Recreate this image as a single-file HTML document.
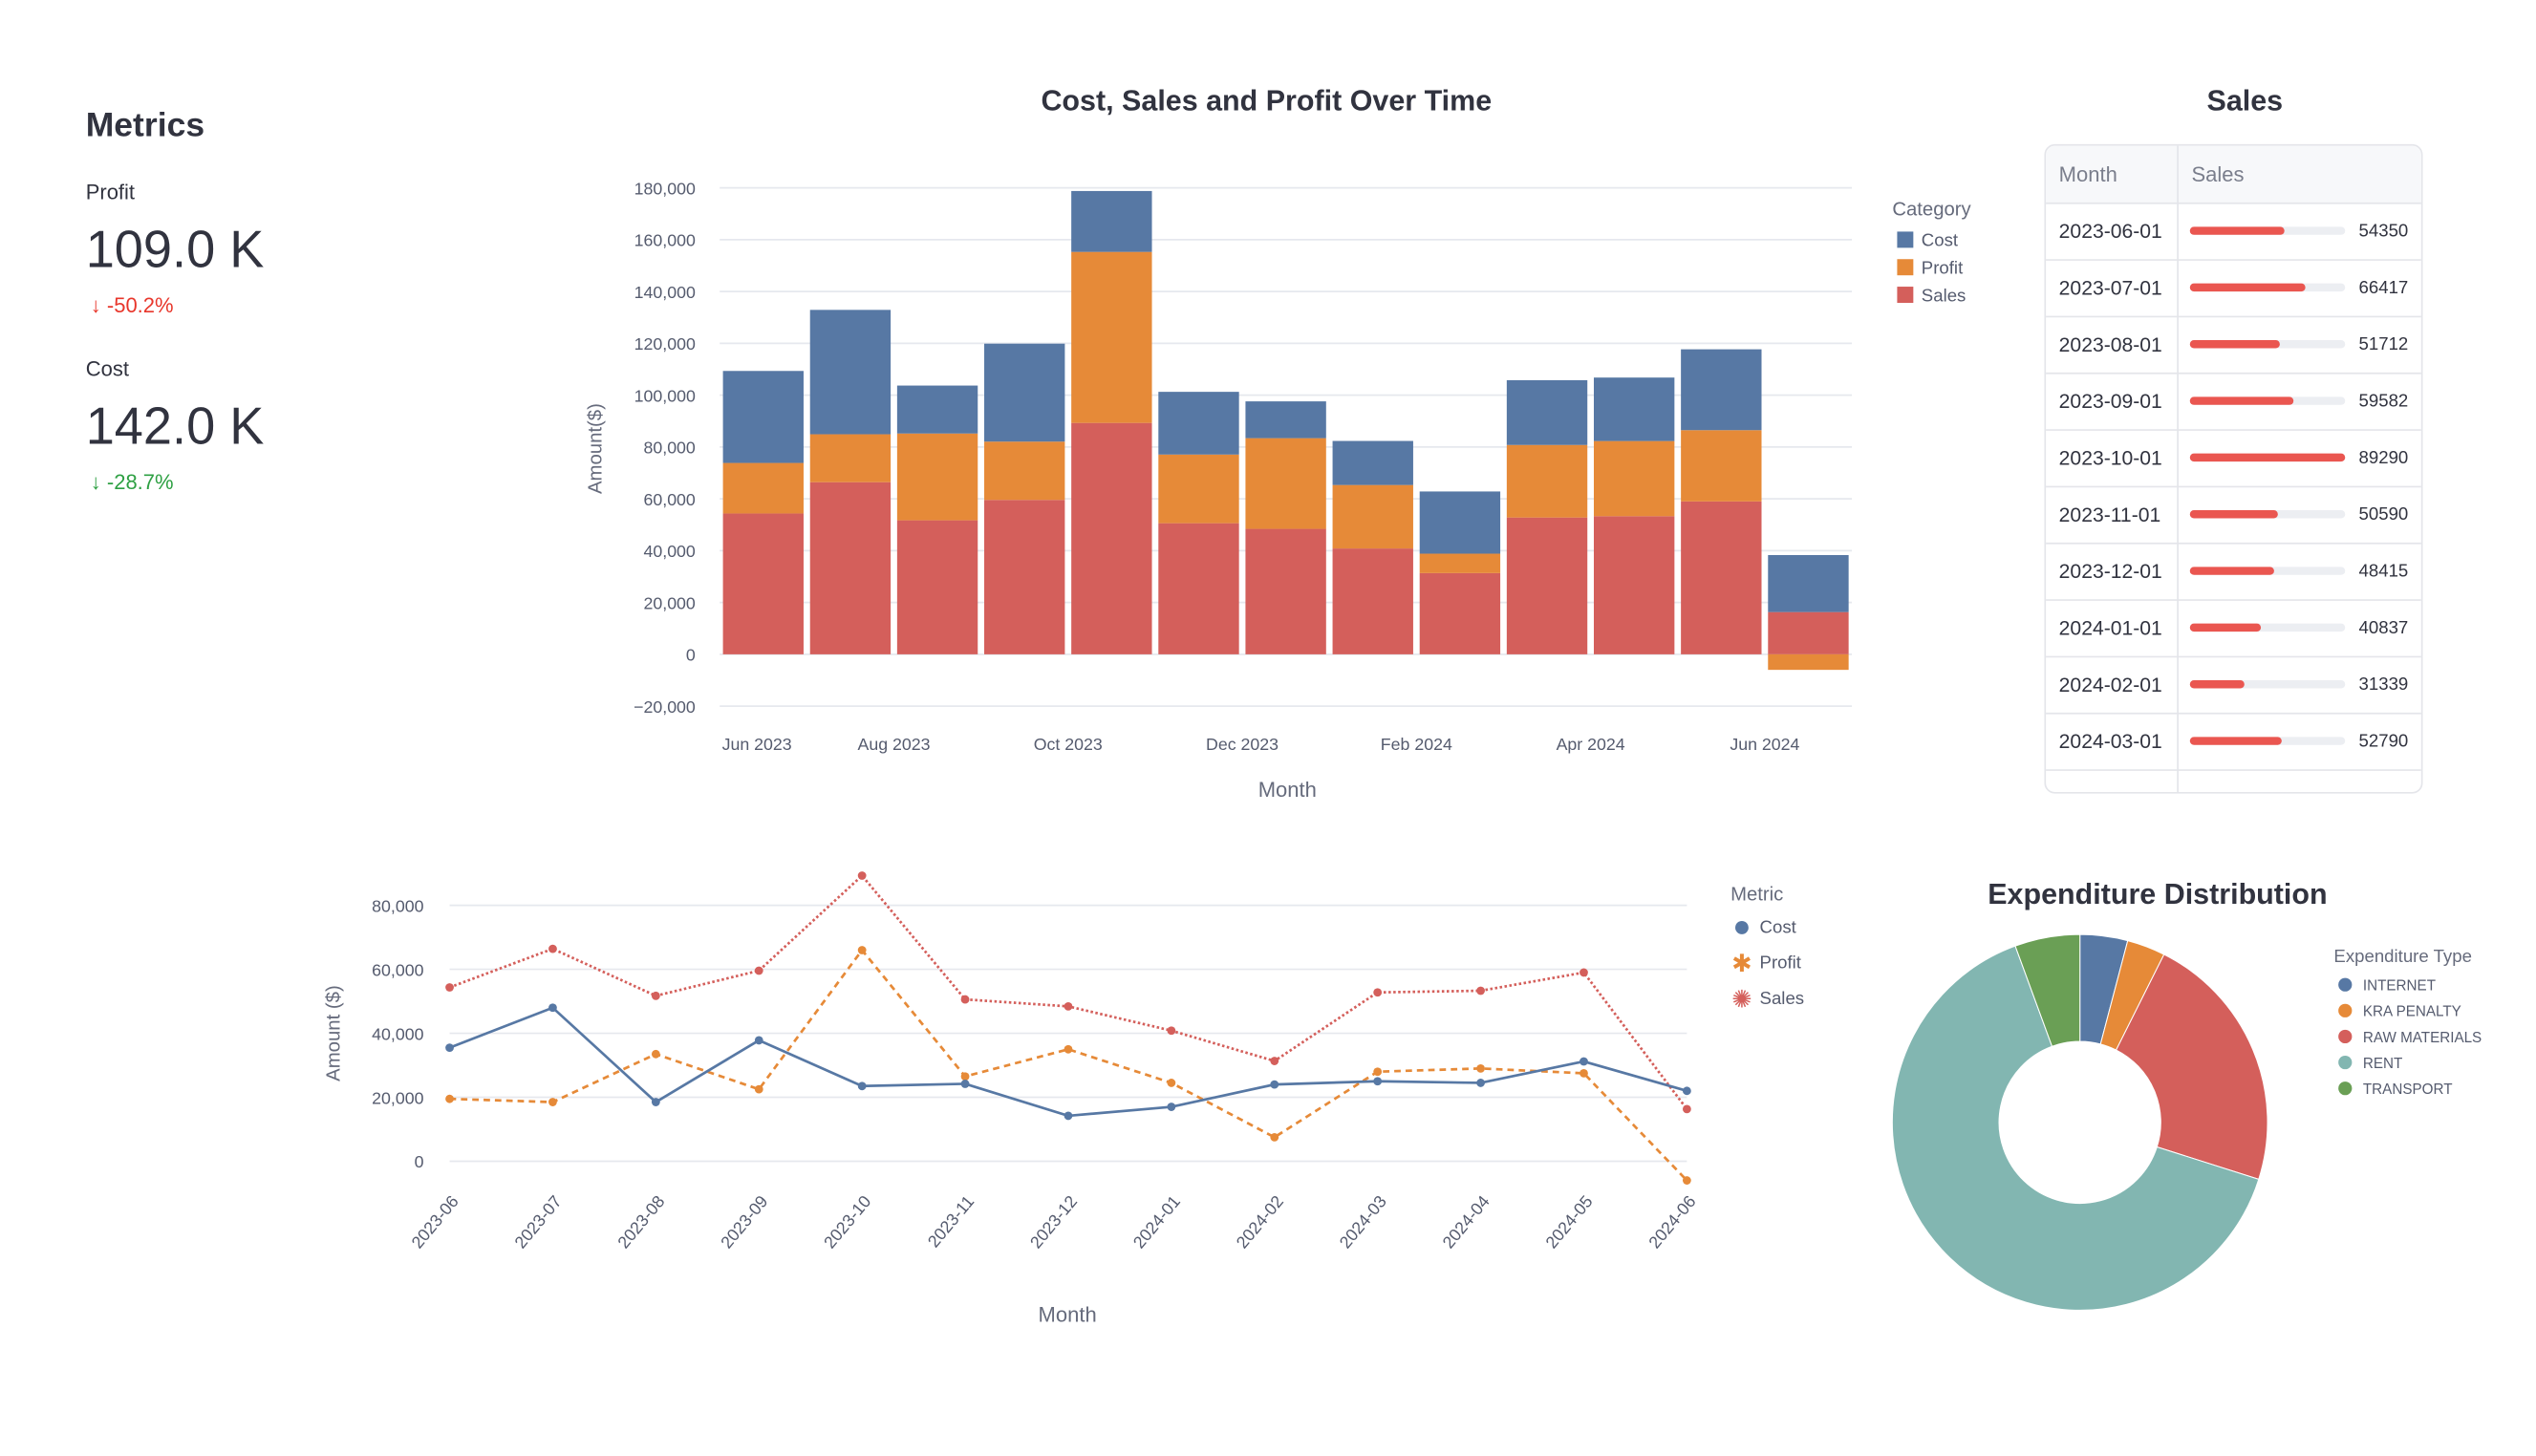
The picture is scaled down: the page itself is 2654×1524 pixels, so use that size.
<!DOCTYPE html>
<html><head><meta charset="utf-8"><style>
html,body{margin:0;padding:0;background:#fff;}
svg{display:block;font-family:"Liberation Sans",sans-serif;}
</style></head><body>
<svg id="root" width="2654" height="1524" viewBox="0 0 1568 899" preserveAspectRatio="none" xmlns="http://www.w3.org/2000/svg">
<g fill="#31333f">
<text x="53" y="84" font-size="21" font-weight="bold">Metrics</text>
<text x="53" y="123" font-size="13">Profit</text>
<text x="53" y="165" font-size="32">109.0 K</text>
<text x="56" y="193" font-size="13" fill="#e8362b">↓ -50.2%</text>
<text x="53" y="232" font-size="13">Cost</text>
<text x="53" y="274" font-size="32">142.0 K</text>
<text x="56" y="302" font-size="13" fill="#2ea043">↓ -28.7%</text>
</g>
<g id="bar"></g>
<g id="table"></g>
<g id="line"></g>
<g id="pie"></g>
</svg>
<script>
const months=["2023-06","2023-07","2023-08","2023-09","2023-10","2023-11","2023-12","2024-01","2024-02","2024-03","2024-04","2024-05","2024-06"];
const sales=[54350,66417,51712,59582,89290,50590,48415,40837,31339,52790,53300,59000,16300];
const profit=[19500,18500,33500,22500,66000,26500,35000,24500,7500,28000,29000,27500,-6000];
const cost=[35500,48000,18500,37800,23500,24200,14200,17000,24000,25000,24500,31200,22000];
const barTicks=[-20000,0,20000,40000,60000,80000,100000,120000,140000,160000,180000];
const barXLabels=["Jun 2023","Aug 2023","Oct 2023","Dec 2023","Feb 2024","Apr 2024","Jun 2024"];
const lineTicks=[0,20000,40000,60000,80000];
const tableMonths=["2023-06-01","2023-07-01","2023-08-01","2023-09-01","2023-10-01","2023-11-01","2023-12-01","2024-01-01","2024-02-01","2024-03-01"];
const pieLabels=["INTERNET","KRA PENALTY","RAW MATERIALS","RENT","TRANSPORT"];
const pieValues=[4.1,3.3,22.5,64.5,5.6];
const C={cost:"#5778a4",profit:"#e68a38",sales:"#d45f5b",rent:"#82b6b1",tr:"#6a9f55"};
const NS="http://www.w3.org/2000/svg";
function mk(p,tag,a,txt){const e=document.createElementNS(NS,tag);for(const k in a)e.setAttribute(k,a[k]);if(txt!==undefined)e.textContent=txt;p.appendChild(e);return e;}
const fmt=v=>v.toLocaleString("en-US").replace("-","−");

// BAR CHART
const B=document.getElementById("bar");
const bx0=445,bx1=1145,bw=(bx1-bx0)/months.length;
const by=v=>404-v*32/20000;
let t=mk(B,"text",{x:783,y:68,"font-size":18,"font-weight":"bold","text-anchor":"middle",fill:"#31333f"},"Cost, Sales and Profit Over Time");

barTicks.forEach(v=>{
 const g=mk(B,"line",{x1:bx0,x2:bx1,y1:by(v),y2:by(v),stroke:"#e6e8ee","stroke-width":1});
 
 const l=mk(B,"text",{x:430,y:by(v)+4,"font-size":10.5,"text-anchor":"end",fill:"#555b6e"},fmt(v));
 
});
months.forEach((m,i)=>{
 const x=bx0+i*bw+2,w=bw-4;
 const segs=[[0,sales[i],C.sales],[sales[i],sales[i]+Math.max(profit[i],0),C.profit]];
 let top=sales[i]+Math.max(profit[i],0);
 segs.push([top,top+cost[i],C.cost]);
 if(profit[i]<0)segs.push([profit[i],0,C.profit]);
 segs.forEach((s,k)=>{
  const r=mk(B,"rect",{x:x,y:by(s[1]),width:w,height:by(s[0])-by(s[1]),fill:s[2]});
  
 });
});
barXLabels.forEach((l,k)=>{
 const x=k===0?468:bx0+2*k*bw;
 const e=mk(B,"text",{x:x,y:463,"font-size":10.5,"text-anchor":"middle",fill:"#555b6e"},l);
 
});
t=mk(B,"text",{x:796,y:492,"font-size":13,"text-anchor":"middle",fill:"#666b7c"},"Month");

t=mk(B,"text",{x:0,y:0,"font-size":12,"text-anchor":"middle",fill:"#666b7c",transform:"translate(372,277) rotate(-90)"},"Amount($)");

t=mk(B,"text",{x:1170,y:133,"font-size":12,fill:"#666b7c"},"Category");

[["Cost",C.cost],["Profit",C.profit],["Sales",C.sales]].forEach((e,i)=>{
 const r=mk(B,"rect",{x:1173,y:143+17*i,width:10,height:10,fill:e[1]});
 
 const l=mk(B,"text",{x:1188,y:152+17*i,"font-size":11,fill:"#555b6e"},e[0]);
 
});

// TABLE
const T=document.getElementById("table");
t=mk(T,"text",{x:1388,y:68,"font-size":18,"font-weight":"bold","text-anchor":"middle",fill:"#31333f"},"Sales");

let r=mk(T,"rect",{x:1264.5,y:89.5,width:233,height:400,rx:6,fill:"#fff",stroke:"#e4e5ea"});

r=mk(T,"path",{d:"M1265,125 V96 a6,6 0 0 1 6,-6 H1491 a6,6 0 0 1 6,6 V125 Z",fill:"#f7f8fa"});

t=mk(T,"text",{x:1273,y:112,"font-size":13,fill:"#7a7e8c"},"Month");

t=mk(T,"text",{x:1355,y:112,"font-size":13,fill:"#7a7e8c"},"Sales");

mk(T,"line",{x1:1346.5,x2:1346.5,y1:90,y2:489,stroke:"#e4e5ea"});
const smax=Math.max(...sales);
tableMonths.forEach((m,i)=>{
 const y=125+35*i;
 mk(T,"line",{x1:1265,x2:1497,y1:y+0.5,y2:y+0.5,stroke:"#e4e5ea"});
 const d=mk(T,"text",{x:1273,y:y+22,"font-size":12.5,fill:"#31333f"},m);
 
 const tr=mk(T,"rect",{x:1354,y:y+15,width:96,height:5,rx:2.5,fill:"#eceef2"});
 
 const f=mk(T,"rect",{x:1354,y:y+15,width:96*sales[i]/smax,height:5,rx:2.5,fill:"#ea5650"});
 
 const n=mk(T,"text",{x:1489,y:y+21,"font-size":11,"text-anchor":"end",fill:"#31333f"},String(sales[i]));
 
});
mk(T,"line",{x1:1265,x2:1497,y1:475.5,y2:475.5,stroke:"#e4e5ea"});

// LINE CHART
const L=document.getElementById("line");
const lx=i=>278+i*(1043-278)/(months.length-1);
const ly=v=>717-v*39.5/20000;
lineTicks.forEach(v=>{
 const g=mk(L,"line",{x1:278,x2:1043,y1:ly(v),y2:ly(v),stroke:"#e6e8ee"});
 
 const l=mk(L,"text",{x:262,y:ly(v)+4,"font-size":10.5,"text-anchor":"end",fill:"#555b6e"},fmt(v));
 
});
months.forEach((m,i)=>{
 const l=mk(L,"text",{x:0,y:0,"font-size":10.5,"text-anchor":"end",fill:"#555b6e",transform:`translate(${lx(i)+6},${742}) rotate(-50)`},m);
 
});
[[sales,C.sales,"1.5 1.5","sales-line"],[profit,C.profit,"4 3","profit-line"],[cost,C.cost,"","cost-line"]].forEach(s=>{
 const d=s[0].map((v,i)=>(i?"L":"M")+lx(i)+","+ly(v)).join(" ");
 const p=mk(L,"path",{d:d,fill:"none",stroke:s[1],"stroke-width":1.6,"stroke-dasharray":s[2]});
 
 s[0].forEach((v,i)=>{
  const c=mk(L,"circle",{cx:lx(i),cy:ly(v),r:2.6,fill:s[1]});
  
 });
});
t=mk(L,"text",{x:660,y:816,"font-size":13,"text-anchor":"middle",fill:"#666b7c"},"Month");

t=mk(L,"text",{x:0,y:0,"font-size":12,"text-anchor":"middle",fill:"#666b7c",transform:"translate(210,638) rotate(-90)"},"Amount ($)");

t=mk(L,"text",{x:1070,y:556,"font-size":12,fill:"#666b7c"},"Metric");

[["Cost",C.cost,"●",19],["Profit",C.profit,"✱",15],["Sales",C.sales,"✺",15]].forEach((e,i)=>{
 const s=mk(L,"text",{x:1077,y:578+22*i,"font-size":e[3],"text-anchor":"middle",fill:e[1]},e[2]);
 
 const l=mk(L,"text",{x:1088,y:576+22*i,"font-size":11,fill:"#555b6e"},e[0]);
 
});

// DONUT
const P=document.getElementById("pie");
t=mk(P,"text",{x:1334,y:558,"font-size":18,"font-weight":"bold","text-anchor":"middle",fill:"#31333f"},"Expenditure Distribution");

const pc=[C.cost,C.profit,C.sales,C.rent,C.tr];
const cx=1286,cy=693,R=116,ri=50;
const tot=pieValues.reduce((a,b)=>a+b,0);
let a0=0;
pieValues.forEach((v,i)=>{
 const a1=a0+v/tot*2*Math.PI;
 const pt=(r,a)=>[cx+r*Math.sin(a),cy-r*Math.cos(a)];
 const [x1,y1]=pt(R,a0),[x2,y2]=pt(R,a1),[x3,y3]=pt(ri,a1),[x4,y4]=pt(ri,a0);
 const lg=(a1-a0)>Math.PI?1:0;
 const p=mk(P,"path",{d:`M${x1},${y1} A${R},${R} 0 ${lg} 1 ${x2},${y2} L${x3},${y3} A${ri},${ri} 0 ${lg} 0 ${x4},${y4} Z`,fill:pc[i],stroke:"#fff","stroke-width":0.6});
 
 a0=a1;
});
t=mk(P,"text",{x:1443,y:594,"font-size":11,fill:"#666b7c"},"Expenditure Type");

pieLabels.forEach((l,i)=>{
 const c=mk(P,"circle",{cx:1450,cy:608+16*i,r:4.2,fill:pc[i]});
 
 const e=mk(P,"text",{x:1461,y:611.5+16*i,"font-size":9,fill:"#555b6e"},l);
 
});
</script>
</body></html>
